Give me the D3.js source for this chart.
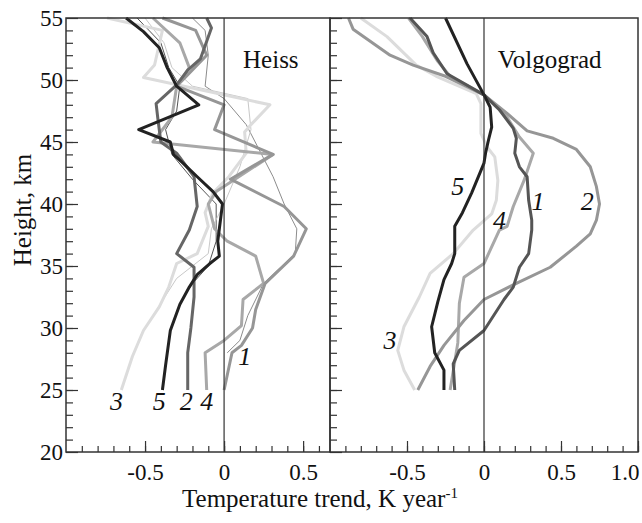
<!DOCTYPE html>
<html>
<head>
<meta charset="utf-8">
<script src="https://cdn.jsdelivr.net/npm/d3@7"></script>
<style>
  body { margin: 0; background: #fff; }
  svg text { font-family: "Liberation Serif", "DejaVu Serif", serif; fill: #111; }
</style>
</head>
<body>
<svg id="vis" width="642" height="523"></svg>
<script>
// profiles: [trend K/year, height km]
// Heiss
const heiss1 = [[0.0,25],[0.05,28],[0.11,28.6],[0.18,30],[0.20,31.5],[0.26,33.6],[0.44,35.8],[0.52,38],[0.38,39.8],[0.04,42],[0.31,44],[-0.06,46],[0.0,48],[-0.30,49.5],[-0.11,52],[-0.18,54],[-0.39,55]];
const heiss2 = [[-0.23,25],[-0.23,28],[-0.21,30],[-0.19,32.5],[-0.19,34.9],[-0.30,36],[-0.22,37.9],[-0.17,39.8],[-0.19,42.2],[-0.30,44.1],[-0.40,45],[-0.42,47],[-0.43,48.1],[-0.30,49.6],[-0.23,50.8],[-0.15,51.7],[-0.08,54.2],[-0.11,55]];
const heiss3 = [[-0.65,25],[-0.58,27.7],[-0.51,29.8],[-0.41,31.7],[-0.35,33.3],[-0.30,35.2],[-0.17,36],[-0.10,38.2],[-0.12,39.3],[-0.07,40.9],[0.03,42.2],[0.14,44.1],[0.13,45.8],[0.17,46.4],[0.29,48],[-0.51,50.2],[-0.44,51.2],[-0.39,54],[-0.74,55]];
const heiss4 = [[-0.11,25],[-0.12,28],[0.0,29],[0.11,30.2],[0.12,32.3],[0.25,33.6],[0.20,35.8],[0.02,37],[-0.06,38],[-0.10,40],[-0.05,41],[0.31,44],[-0.45,45],[-0.33,47],[-0.30,49.5],[-0.22,51],[-0.28,53],[-0.45,55]];
const heiss5 = [[-0.39,25],[-0.37,27],[-0.34,29.8],[-0.28,31.9],[-0.22,33.3],[-0.17,34.3],[-0.09,35.2],[-0.03,35.8],[-0.04,37],[-0.03,38],[-0.02,39],[-0.01,40],[-0.07,41],[-0.17,42.2],[-0.26,43.3],[-0.32,44],[-0.34,45],[-0.54,46],[-0.16,48],[-0.30,49.5],[-0.36,51],[-0.41,52.6],[-0.51,53.9],[-0.62,55]];
// thin profiles, Heiss
const heissThinA = [[0.02,28],[0.10,29],[0.15,31],[0.25,33.6],[0.45,36],[0.46,38],[0.38,40],[0.31,42.2],[0.14,46.4],[0.0,48.5],[-0.12,49.5],[-0.10,52],[-0.12,54],[-0.20,55]];
const heissThinB = [[-0.22,33.3],[-0.10,35],[-0.05,37],[-0.05,40],[-0.20,42],[-0.33,44],[-0.37,46],[-0.30,47.5],[-0.28,49.5],[-0.35,51],[-0.40,53],[-0.55,55]];
const heissThinC = [[-0.45,31],[-0.30,34],[-0.10,36],[-0.08,38],[0.0,40],[0.10,43],[0.17,46],[0.15,48.5],[-0.20,49.5],[-0.33,51],[-0.38,53],[-0.50,55]];
// Volgograd
const volg1 = [[-0.19,25],[-0.20,27.1],[-0.16,28.2],[0.0,29.8],[0.13,32.3],[0.19,33.3],[0.23,34.9],[0.29,36],[0.31,37.9],[0.31,38.7],[0.29,40.3],[0.28,42.2],[0.23,43],[0.20,44.1],[0.21,45.3],[0.19,46.1],[0.10,47.6],[0.0,48.8],[-0.24,50.5],[-0.33,52.2],[-0.37,53.5],[-0.48,55]];
const volg2 = [[-0.43,25],[-0.35,26.9],[-0.26,28.6],[-0.13,30.6],[0.0,32.3],[0.21,33.6],[0.43,34.9],[0.60,36.6],[0.69,37.6],[0.73,38.7],[0.75,40],[0.73,41.4],[0.69,43],[0.60,44.4],[0.45,45.3],[0.28,45.9],[0.15,47.3],[0.0,48.8],[-0.25,50.3],[-0.46,51.2],[-0.61,52],[-0.85,54.1],[-0.88,55]];
const volg3 = [[-0.45,25],[-0.52,26.6],[-0.56,28.2],[-0.52,30.1],[-0.42,32.5],[-0.35,34.4],[-0.20,36],[-0.07,37.9],[0.05,39.2],[0.08,40.3],[0.09,41.9],[0.07,43.8],[0.02,44.6],[-0.02,45.7],[-0.02,48.1],[-0.05,48.9],[-0.31,50.3],[-0.44,51.2],[-0.63,53.5],[-0.80,55]];
const volg4 = [[-0.22,25],[-0.17,28.8],[-0.16,32],[-0.13,34.1],[0.0,35.2],[0.10,37.9],[0.15,38.2],[0.19,39.8],[0.26,41.9],[0.32,44.1],[0.23,45.4],[0.15,47],[0.0,48.8],[-0.22,50.3],[-0.30,51.5],[-0.40,53.5],[-0.49,55]];
const volg5 = [[-0.26,25],[-0.26,26.6],[-0.32,28],[-0.34,30.1],[-0.30,32.1],[-0.26,33.9],[-0.21,35.2],[-0.19,36],[-0.19,38.2],[-0.14,39.3],[-0.08,40.9],[0.0,43.3],[0.01,44.1],[0.03,45.2],[0.05,46.2],[0.04,47.8],[0.0,48.8],[-0.11,51.3],[-0.25,55]];

const yTicks = [20, 25, 30, 35, 40, 45, 50, 55];
const heissTicks = [-0.5, 0, 0.5];
const heissTickLabels = ['-0.5', '0', '0.5'];
const volgTicks = [-0.5, 0, 0.5, 1.0];
const volgTickLabels = ['-0.5', '0', '0.5', '1.0'];

const vis = d3.select('#vis');

const y = d3.scaleLinear().domain([20, 55]).range([452, 18]);
const xL = d3.scaleLinear().domain([-1, 0.67]).range([66, 330]);
const xR = d3.scaleLinear().domain([-1, 1]).range([330, 638]);

const panels = [
  {x: xL, name: 'Heiss', ticks: heissTicks, labels: heissTickLabels,
   thin: [[heissThinA, '#8c8c8c'], [heissThinB, '#555'], [heissThinC, '#c8c8c8']],
   curves: [[heiss3, '#dcdcdc'], [heiss4, '#a8a8a8'], [heiss1, '#969696'], [heiss2, '#666'], [heiss5, '#222']],
   nums: [['3', -0.68, 23.4], ['5', -0.41, 23.4], ['2', -0.24, 23.4], ['4', -0.11, 23.4], ['1', 0.13, 27.0]]},
  {x: xR, name: 'Volgograd', ticks: volgTicks, labels: volgTickLabels,
   thin: [],
   curves: [[volg3, '#dcdcdc'], [volg4, '#a8a8a8'], [volg2, '#969696'], [volg1, '#555'], [volg5, '#222']],
   nums: [['5', -0.17, 40.7], ['4', 0.10, 38.0], ['1', 0.35, 39.5], ['2', 0.67, 39.5], ['3', -0.61, 28.3]]}
];

panels.forEach(p => {
  const x = p.x;
  const [x0, x1] = x.range();
  const g = vis.append('g');

  const line = d3.line().x(d => x(d[0])).y(d => y(d[1]));

  g.selectAll('path.thin').data(p.thin).enter().append('path')
    .attr('d', d => line(d[0]))
    .attr('fill', 'none').attr('stroke', d => d[1]).attr('stroke-width', 1);

  g.selectAll('path.curve').data(p.curves).enter().append('path')
    .attr('d', d => line(d[0]))
    .attr('fill', 'none').attr('stroke', d => d[1])
    .attr('stroke-width', 3).attr('stroke-linejoin', 'round');

  // zero line
  g.append('line')
    .attr('x1', x(0)).attr('x2', x(0)).attr('y1', y(55)).attr('y2', y(20))
    .attr('stroke', '#333').attr('stroke-width', 1.2);

  // frame
  g.append('rect')
    .attr('x', x0).attr('y', y(55)).attr('width', x1 - x0).attr('height', y(20) - y(55))
    .attr('fill', 'none').attr('stroke', '#333').attr('stroke-width', 1.5);

  // bottom ticks (inward)
  const minor = d3.range(-9, Math.floor(x.domain()[1] * 10) + 1).map(v => v / 10);
  g.append('g').attr('transform', `translate(0,${y(20)})`)
    .call(d3.axisBottom(x).tickValues(minor).tickSize(-6).tickFormat(''))
    .call(a => a.select('.domain').remove())
    .call(a => a.selectAll('line').attr('stroke', '#333').attr('stroke-width', 1.2));
  g.append('g').attr('transform', `translate(0,${y(20)})`)
    .call(d3.axisBottom(x).tickValues(p.ticks).tickSize(-11).tickFormat((d, i) => p.labels[i]))
    .call(a => a.select('.domain').remove())
    .call(a => a.selectAll('line').attr('stroke', '#333').attr('stroke-width', 1.2))
    .call(a => a.selectAll('text').attr('y', 12).attr('dy', '0.71em')
      .attr('font-size', 23).attr('fill', '#111'));

  // left ticks (inward)
  g.append('g').attr('transform', `translate(${x0},0)`)
    .call(d3.axisLeft(y).tickValues(d3.range(21, 55)).tickSize(-7).tickFormat(''))
    .call(a => a.select('.domain').remove())
    .call(a => a.selectAll('line').attr('stroke', '#333').attr('stroke-width', 1.2));
  g.append('g').attr('transform', `translate(${x0},0)`)
    .call(d3.axisLeft(y).tickValues(yTicks).tickSize(-12).tickFormat(p.x === xL ? d3.format('d') : ''))
    .call(a => a.select('.domain').remove())
    .call(a => a.selectAll('line').attr('stroke', '#333').attr('stroke-width', 1.2))
    .call(a => a.selectAll('text').attr('x', -3).attr('font-size', 23).attr('fill', '#111'));

  // panel name
  g.append('text')
    .attr('x', x(p.name === 'Heiss' ? 0.12 : 0.09)).attr('y', 68)
    .attr('font-size', 25).text(p.name);

  // curve numbers
  g.selectAll('text.num').data(p.nums).enter().append('text')
    .attr('x', d => x(d[1])).attr('y', d => y(d[2]))
    .attr('font-size', 26).attr('font-style', 'italic')
    .attr('text-anchor', 'middle').text(d => d[0]);
});

// the 1.0 label sits at the window edge
vis.selectAll('text').filter(function () { return this.textContent === '1.0'; })
  .attr('text-anchor', 'end').attr('x', 639 - xR(1));

vis.append('text')
  .attr('transform', 'translate(31,210) rotate(-90)')
  .attr('text-anchor', 'middle').attr('font-size', 25).text('Height, km');

const cap = vis.append('text').attr('x', 320).attr('y', 507)
  .attr('text-anchor', 'middle').attr('font-size', 25);
cap.append('tspan').text('Temperature trend, K year');
cap.append('tspan').attr('dy', -9).attr('font-size', 15).text('-1');
</script>
</body>
</html>
